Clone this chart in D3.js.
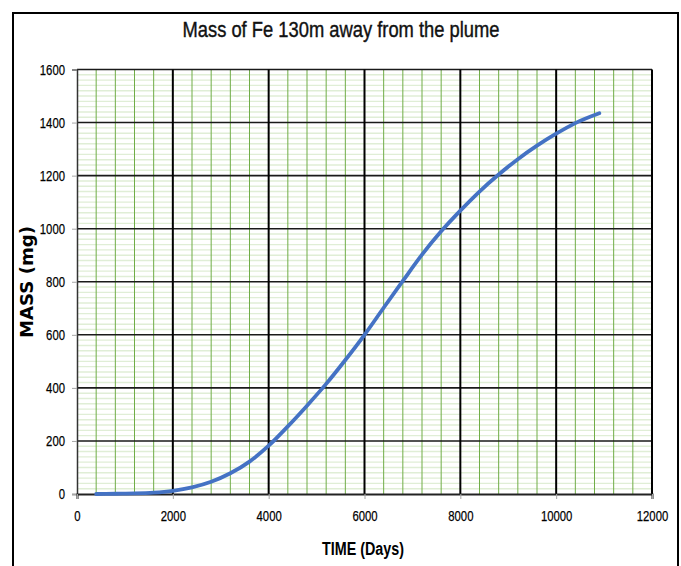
<!DOCTYPE html>
<html>
<head>
<meta charset="utf-8">
<script src="https://cdn.jsdelivr.net/npm/d3@7/dist/d3.min.js"></script>
<style>
  html, body { margin: 0; padding: 0; background: #fff; }
  svg { display: block; }
  .narrow { font-family: "Liberation Sans", Arial, sans-serif; }
</style>
</head>
<body>
<svg id="chart" width="681" height="566"></svg>
<script>
// ---- data ----
const days = [400, 800, 1200, 1600, 2000, 2400, 2800, 3200, 3600, 4000, 4400, 4800, 5200, 5600, 6000, 6400, 6800, 7200, 7600, 8000, 8400, 8800, 9200, 9600, 10000, 10400, 10900];
const mass = [0, 1, 2, 5, 12, 25, 46, 78, 122, 182, 255, 333, 415, 505, 600, 702, 803, 902, 990, 1068, 1140, 1204, 1262, 1313, 1358, 1398, 1435];
const xTicks = [0, 2000, 4000, 6000, 8000, 10000, 12000];
const yTicks = [0, 200, 400, 600, 800, 1000, 1200, 1400, 1600];
const xMinorStep = 400;
const yMinorStep = 20;
const titleText = "Mass of Fe 130m away from the plume";
const xTitle = "TIME (Days)";
const yTitle = "MASS (mg)";

(function () {
const svg = d3.select("#chart");
const pLeft = 77, pRight = 652, pTop = 69.5, pBottom = 494;
const digitW = 6.3;

const x = d3.scaleLinear().domain([0, 12000]).range([pLeft, pRight]);
const y = d3.scaleLinear().domain([0, 1600]).range([pBottom, pTop]);

// outer frame
svg.append("rect").attr("x", 13).attr("y", 13).attr("width", 665).attr("height", 570)
  .attr("fill", "#fff").attr("stroke", "#000").attr("stroke-width", 2);

// minor horizontal grid
const yMinor = d3.range(0, 1600 + 1, yMinorStep).filter(v => v % 200 !== 0);
svg.append("g").selectAll("line").data(yMinor).join("line")
  .attr("x1", pLeft).attr("x2", pRight)
  .attr("y1", d => y(d)).attr("y2", d => y(d))
  .attr("stroke", "#e0eed6").attr("stroke-width", 1.4);

// minor vertical grid
const xMinor = d3.range(0, 12000 + 1, xMinorStep).filter(v => v % 2000 !== 0);
svg.append("g").selectAll("line").data(xMinor).join("line")
  .attr("y1", pTop).attr("y2", pBottom)
  .attr("x1", d => x(d)).attr("x2", d => x(d))
  .attr("stroke", "#70ad47").attr("stroke-width", 1);

// major horizontal grid
svg.append("g").selectAll("line").data(yTicks.filter(v => v > 0)).join("line")
  .attr("x1", pLeft).attr("x2", pRight)
  .attr("y1", d => y(d)).attr("y2", d => y(d))
  .attr("stroke", "#1a1a1a").attr("stroke-width", 1.6);

// major vertical grid
svg.append("g").selectAll("line").data(xTicks.filter(v => v > 0)).join("line")
  .attr("y1", pTop).attr("y2", pBottom)
  .attr("x1", d => x(d)).attr("x2", d => x(d))
  .attr("stroke", "#000").attr("stroke-width", 2);

// axes
const yAxis = d3.axisLeft(y).tickValues(yTicks).tickSize(5).tickPadding(7).tickFormat(d3.format("d"));
const gy = svg.append("g").attr("transform", `translate(${pLeft},0)`).call(yAxis);
gy.select(".domain").attr("stroke", "#333").attr("stroke-width", 1.5);
gy.selectAll(".tick line").attr("stroke", "#a6a6a6");
gy.selectAll(".tick text").attr("class", "narrow").attr("font-size", 15).attr("fill", "#000")
  .style("stroke", "#000").style("stroke-width", 0.25)
  .attr("textLength", function () { return this.textContent.length * digitW; })
  .attr("lengthAdjust", "spacingAndGlyphs");

const xAxis = d3.axisBottom(x).tickValues(xTicks).tickSize(5).tickPadding(11).tickFormat(d3.format("d"));
const gx = svg.append("g").attr("transform", `translate(0,${pBottom})`).call(xAxis);
gx.select(".domain").attr("stroke", "#222").attr("stroke-width", 2);
gx.selectAll(".tick line").attr("stroke", "#a6a6a6");
gx.selectAll(".tick text").attr("class", "narrow").attr("font-size", 15).attr("fill", "#000")
  .style("stroke", "#000").style("stroke-width", 0.25)
  .attr("textLength", function () { return this.textContent.length * digitW; })
  .attr("lengthAdjust", "spacingAndGlyphs");

// curve
const line = d3.line().x((d, i) => x(days[i])).y(d => y(d)).curve(d3.curveMonotoneX);
svg.append("path").datum(mass).attr("d", line)
  .attr("fill", "none").attr("stroke", "#4472c4").attr("stroke-width", 3.8)
  .attr("stroke-linecap", "round");

// title
svg.append("text").attr("class", "narrow").attr("x", 341).attr("y", 37)
  .attr("text-anchor", "middle").attr("font-size", 21.5).attr("fill", "#111")
  .attr("textLength", 317).attr("lengthAdjust", "spacingAndGlyphs")
  .style("stroke", "#111").style("stroke-width", 0.4)
  .text(titleText);

// x title
svg.append("text").attr("class", "narrow").attr("x", 363).attr("y", 555)
  .attr("text-anchor", "middle").attr("font-size", 18).attr("font-weight", "bold").attr("fill", "#000")
  .attr("textLength", 82).attr("lengthAdjust", "spacingAndGlyphs")
  .text(xTitle);

// y title
svg.append("text").attr("transform", "translate(33,282) rotate(-90)")
  .attr("text-anchor", "middle").attr("font-family", "'DejaVu Sans', sans-serif")
  .attr("font-size", 17.5).attr("font-weight", "bold").attr("fill", "#000")
  .attr("textLength", 112).attr("lengthAdjust", "spacingAndGlyphs")
  .text(yTitle);
})();
</script>
</body>
</html>
